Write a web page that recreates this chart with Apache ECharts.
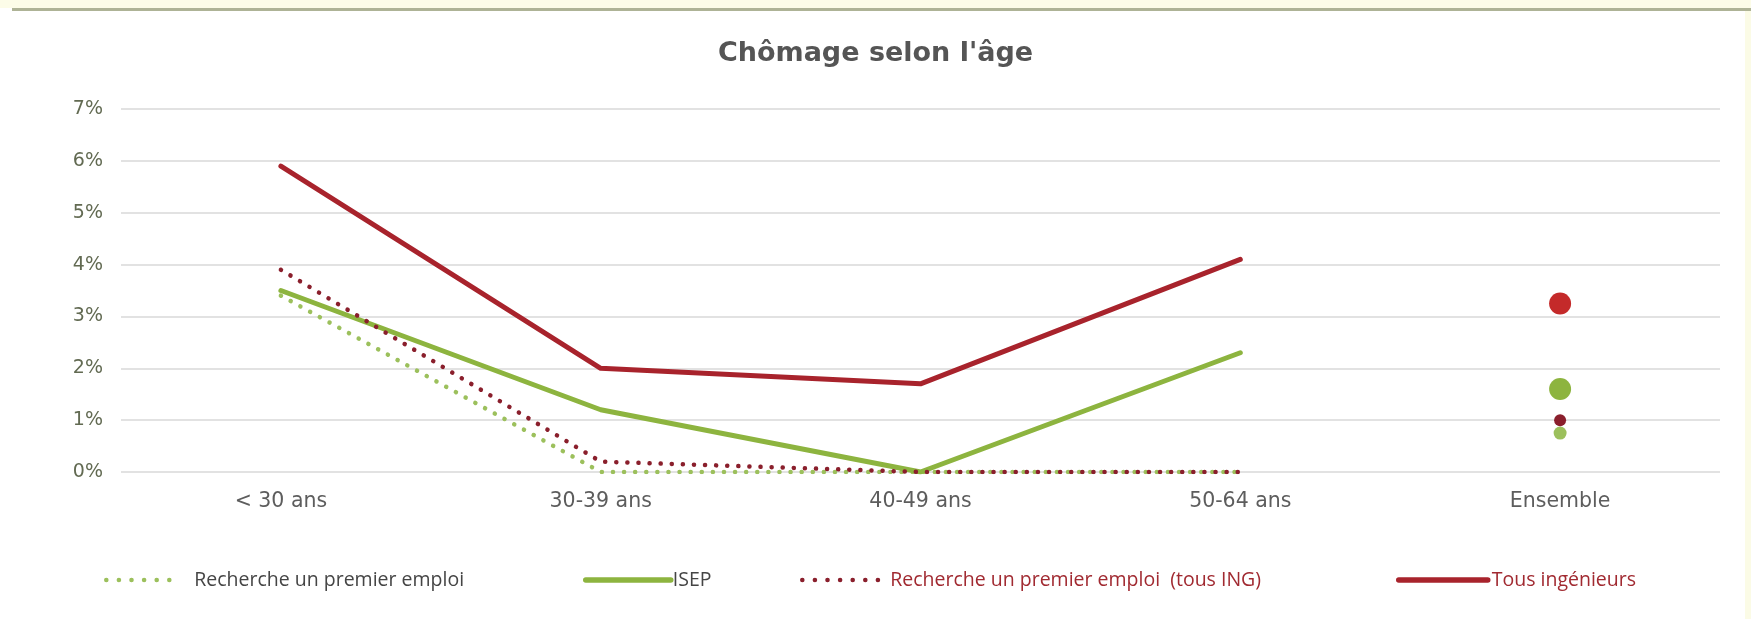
<!DOCTYPE html>
<html>
<head>
<meta charset="utf-8">
<title>Chômage selon l'âge</title>
<script src="https://cdn.jsdelivr.net/npm/echarts@6/dist/echarts.min.js"></script>
<style>
  html, body { margin: 0; padding: 0; background: #ffffff; }
  #chart { width: 1751px; height: 619px; }
</style>
</head>
<body>
<div id="chart"></div>
<script>
// Age groups on the x axis (last one is the overall figure)
const categories = ['< 30 ans', '30-39 ans', '40-49 ans', '50-64 ans', 'Ensemble'];

// Unemployment rates, in %
const premierEmploiIsep = [3.4, 0.0, 0.0, 0.0, 0.75];
const isep = [3.5, 1.2, 0.0, 2.3, 1.6];
const premierEmploiTousIng = [3.9, 0.2, 0.0, 0.0, 1.0];
const tousIngenieurs = [5.9, 2.0, 1.7, 4.1, 3.25];

const yTicks = [0, 1, 2, 3, 4, 5, 6, 7];

const GREEN = '#8db43f';
const GREEN_DOT = '#9cc05c';
const RED = '#a8232c';
const RED_DOT = '#8a1f2c';
const RED_BIG = '#c42a2a';

const DOTTED = { width: 4.5, type: [0.1, 11], cap: 'round' };
const SOLID = { width: 5, type: 'solid', cap: 'round', join: 'round' };

// Age groups are joined by a line; the overall value stands alone as a dot
function lineData(arr) {
  return arr.map((v, i) => (i < arr.length - 1 ? v : '-'));
}

const seriesDefs = [
  { name: 'Recherche un premier emploi', values: premierEmploiIsep, color: GREEN_DOT, dotted: true, dot: 13 },
  { name: 'ISEP', values: isep, color: GREEN, dotted: false, dot: 22 },
  { name: 'Recherche un premier emploi  (tous ING)', values: premierEmploiTousIng, color: RED_DOT, dotted: true, dot: 12 },
  { name: 'Tous ingénieurs', values: tousIngenieurs, color: RED, dotted: false, dot: 22, dotColor: RED_BIG }
];

const series = seriesDefs.map(d => {
  const last = d.values.length - 1;
  return {
    name: d.name,
    type: 'line',
    data: lineData(d.values),
    showSymbol: false,
    symbol: 'none',
    connectNulls: false,
    lineStyle: Object.assign({ color: d.color }, d.dotted ? DOTTED : SOLID),
    itemStyle: { color: d.color },
    emphasis: { disabled: true },
    animation: false,
    markPoint: {
      silent: true,
      animation: false,
      label: { show: false },
      data: [{
        coord: [categories[last], d.values[last]],
        symbol: 'circle',
        symbolSize: d.dot,
        itemStyle: { color: d.dotColor || d.color }
      }]
    }
  };
});

function legendAt(def, left, width, textColor, pad) {
  return {
    show: true,
    left: left,
    top: 570,
    padding: 0,
    orient: 'horizontal',
    itemWidth: width,
    itemHeight: 10,
    selectedMode: false,
    data: [{ name: def.name }],
    itemStyle: { opacity: 0, borderWidth: 0 },
    lineStyle: Object.assign(
      { color: def.color, opacity: 1 },
      def.dotted ? { width: 4.5, type: [0.1, 12.5], cap: 'round' } : { width: 5.5, type: 'solid', cap: 'round' }
    ),
    textStyle: {
      color: textColor,
      fontFamily: 'Open Sans',
      fontSize: 19.5,
      padding: [0, 0, 0, pad]
    }
  };
}

const chart = echarts.init(document.getElementById('chart'), null, { renderer: 'canvas' });
chart.setOption({
  backgroundColor: '#ffffff',
  animation: false,
  title: {
    text: "Chômage selon l'âge",
    left: 'center',
    top: 35,
    textStyle: {
      fontFamily: 'DejaVu Sans',
      fontWeight: 'bold',
      fontSize: 27,
      color: '#555555'
    }
  },
  graphic: [
    { type: 'rect', shape: { x: 0, y: 0, width: 1751, height: 8 }, style: { fill: '#fcfce8' }, silent: true },
    { type: 'rect', shape: { x: 12, y: 8, width: 1739, height: 3 }, style: { fill: '#aeb396' }, silent: true },
    { type: 'rect', shape: { x: 1745, y: 11, width: 6, height: 608 }, style: { fill: '#fbfbe6' }, silent: true }
  ],
  grid: { left: 121, right: 31, top: 109, bottom: 147, containLabel: false },
  xAxis: {
    type: 'category',
    data: categories,
    boundaryGap: true,
    axisLine: { show: false },
    axisTick: { show: false },
    axisLabel: {
      margin: 19,
      color: '#5d5d5d',
      fontFamily: 'DejaVu Sans',
      fontSize: 20.5
    }
  },
  yAxis: {
    type: 'value',
    min: yTicks[0],
    max: yTicks[yTicks.length - 1],
    interval: 1,
    axisLine: { show: false },
    axisTick: { show: false },
    splitLine: { lineStyle: { color: '#d9d9d9', width: 1.5 } },
    axisLabel: {
      margin: 18,
      color: '#626a52',
      fontFamily: 'DejaVu Sans',
      fontSize: 19,
      formatter: v => v + '%'
    }
  },
  legend: [
    legendAt(seriesDefs[0], 104, 75, '#454545', 8),
    legendAt(seriesDefs[1], 583, 85, '#454545', -3),
    legendAt(seriesDefs[2], 800, 77, '#a12a31', 6),
    legendAt(seriesDefs[3], 1396, 89, '#a12a31', -1)
  ],
  series: series
});
</script>
</body>
</html>
